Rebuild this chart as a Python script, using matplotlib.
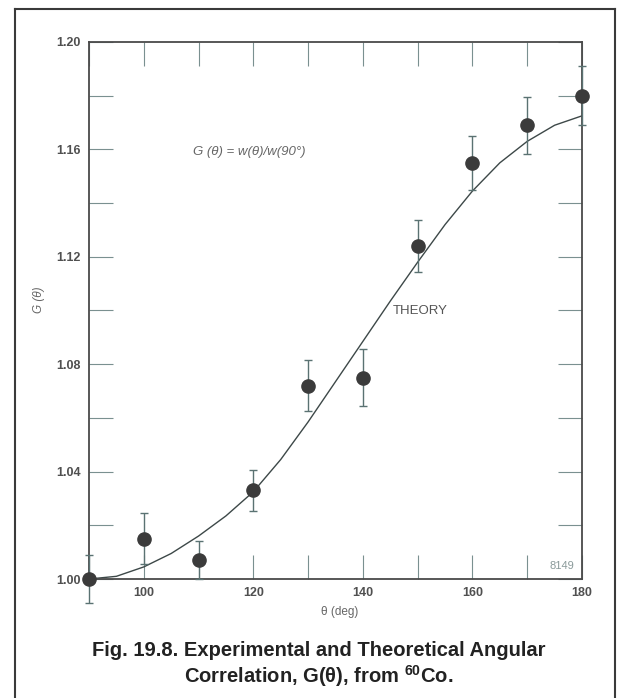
import numpy as np
import matplotlib.pyplot as plt
from matplotlib.lines import Line2D

plt.rcParams['font.family'] = ['Liberation Sans', 'DejaVu Sans']

theta = [90, 100, 110, 120, 130, 140, 150, 160, 170, 180]
g_meas = [1.000, 1.015, 1.007, 1.033, 1.072, 1.075, 1.124, 1.155, 1.169, 1.180]
g_err = [0.009, 0.0095, 0.007, 0.0077, 0.0095, 0.0105, 0.0097, 0.010, 0.0106, 0.011]

theta_th = [90, 95, 100, 105, 110, 115, 120, 125, 130, 135,
            140, 145, 150, 155, 160, 165, 170, 175, 180]
g_th = [1.000, 1.001, 1.0045, 1.0095, 1.016, 1.0235, 1.0325, 1.0445, 1.0585, 1.0735,
        1.0885, 1.1035, 1.118, 1.132, 1.1445, 1.155, 1.163, 1.169, 1.1725]

x_ticks = [90, 100, 110, 120, 130, 140, 150, 160, 170, 180]
x_labels = ['', '100', '', '120', '', '140', '', '160', '', '180']
y_ticks = [1.00, 1.02, 1.04, 1.06, 1.08, 1.10, 1.12, 1.14, 1.16, 1.18, 1.20]
y_labels = ['1.00', '', '1.04', '', '1.08', '', '1.12', '', '1.16', '', '1.20']

W, H = 618, 698
fig = plt.figure(figsize=(W / 100, H / 100), dpi=100)
ax = fig.add_axes([89 / W, 1 - 579 / H, (582 - 89) / W, (579 - 42) / H])

ax.plot(theta_th, g_th, color='#3d4848', lw=1.0, zorder=2)
eb = ax.errorbar(theta, g_meas, yerr=g_err, fmt='o', ms=9.5, mfc='#3b3b3b', mec='#3b3b3b',
                 ecolor='#5a7272', elinewidth=1.0, capsize=3.2, capthick=1.0, zorder=3)
for part in eb.get_children():
    part.set_clip_on(False)

ax.set_xlim(90, 180)
ax.set_ylim(1.00, 1.20)
ax.set_xticks(x_ticks)
ax.set_xticklabels(x_labels, fontweight='bold')
ax.set_yticks(y_ticks)
ax.set_yticklabels(y_labels, fontweight='bold')
ax.tick_params(axis='both', direction='in', length=17, width=0.8, color='#7a9090',
               top=True, right=True, labelsize=9, labelcolor='#505050')
ax.tick_params(axis='x', pad=6)
ax.tick_params(axis='y', pad=6)
for s in ax.spines.values():
    s.set_color('#4a4a4a')
    s.set_linewidth(1.3)

ax.set_xlabel('θ (deg)', fontsize=8.5, color='#666666')
ax.xaxis.set_label_coords((340 - 89) / 493, (579 - 606) / 537)
ax.set_ylabel('G (θ)', fontsize=8.5, color='#666666', fontstyle='italic')
ax.yaxis.set_label_coords((45 - 89) / 493, (579 - 300) / 537)

fig.text(193 / W, 1 - 152 / H, 'G (θ) = w(θ)/w(90°)', fontsize=9.5, fontstyle='italic',
         color='#666666', va='center', ha='left')
fig.text(393 / W, 1 - 311 / H, 'THEORY', fontsize=9.5, color='#555555', va='center', ha='left')
fig.text(550 / W, 1 - 566 / H, '8149', fontsize=8, color='#8a9a9a', va='center', ha='left')

fig.text(319 / W, 1 - 650 / H, 'Fig. 19.8. Experimental and Theoretical Angular',
         fontsize=14.5, fontweight='bold', color='#222222', ha='center', va='center')
fig.text(319 / W, 1 - 676 / H, r'Correlation, G(θ), from $\mathregular{^{60}}$Co.',
         fontsize=14.5, fontweight='bold', color='#222222', ha='center', va='center')

# outer frame (open at the bottom)
bc = '#3a3a3a'
fig.add_artist(Line2D([14.5 / W, 14.5 / W], [0, 1 - 8.5 / H], transform=fig.transFigure, color=bc, lw=1.5))
fig.add_artist(Line2D([614.5 / W, 614.5 / W], [0, 1 - 8.5 / H], transform=fig.transFigure, color=bc, lw=1.5))
fig.add_artist(Line2D([14.5 / W, 614.5 / W], [1 - 8.5 / H, 1 - 8.5 / H], transform=fig.transFigure, color=bc, lw=1.5))

fig.savefig('out.png', dpi=100)
